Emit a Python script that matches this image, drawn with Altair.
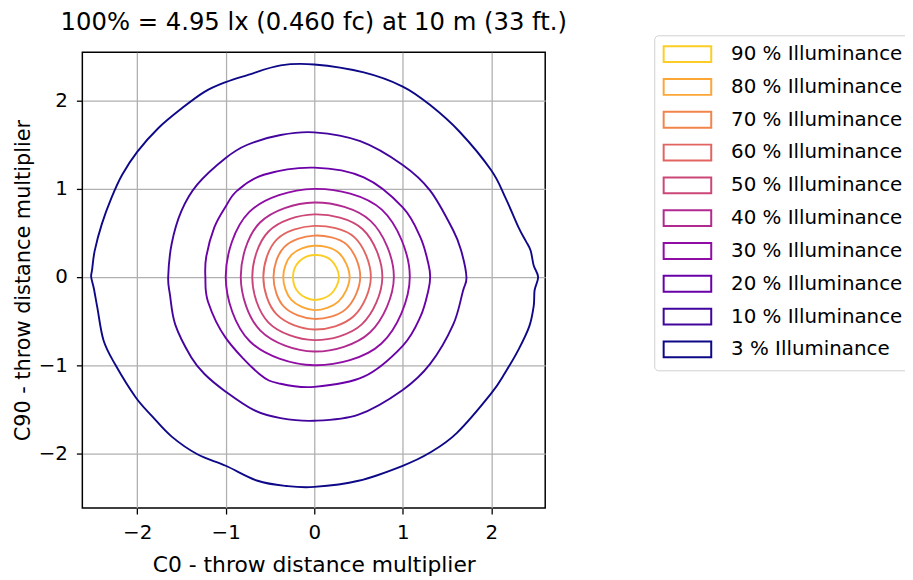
import math
import altair as alt
import pandas as pd

# ---- data ----
pct_levels = [90, 80, 70, 60, 50, 40, 30, 20, 10, 3]
level_colors = ["#fcce25", "#fca636", "#f2844b", "#e16462", "#cc4778",
                "#b12a90", "#8f0da4", "#6a00a8", "#41049d", "#0d0887"]

# outer contours: explicit (x, y) points, counter-clockwise from the right
c3_x = [2.53, 2.48, 2.445, 2.39, 2.31, 2.16, 2.00, 1.64, 1.31, 1.00, 0.56, 0.00, -0.38, -0.755,
        -1.00, -1.24, -1.50, -1.76, -2.00, -2.17, -2.29, -2.40, -2.48, -2.51, -2.52, -2.49,
        -2.45, -2.38, -2.25, -2.02, -1.83, -1.61, -1.32, -1.00, -0.64, -0.31, 0.00, 0.50, 1.00,
        1.31, 1.61, 2.00, 2.16, 2.31, 2.43, 2.48, 2.49]
c3_y = [0.00, 0.13, 0.30, 0.41, 0.56, 0.90, 1.21, 1.65, 1.95, 2.16, 2.32, 2.41, 2.40, 2.29,
        2.21, 2.10, 1.91, 1.69, 1.42, 1.16, 0.90, 0.60, 0.30, 0.08, 0.00, -0.13,
        -0.35, -0.72, -0.99, -1.36, -1.58, -1.81, -2.01, -2.14, -2.31, -2.37, -2.38, -2.31, -2.14,
        -1.99, -1.77, -1.32, -1.08, -0.82, -0.56, -0.33, -0.15]

c10_x = [1.72, 1.66, 1.57, 1.31, 1.00, 0.52, 0.00, -0.38, -0.755, -1.00, -1.32, -1.50, -1.61,
         -1.65, -1.63, -1.57, -1.39, -1.24, -1.00, -0.68, -0.38, 0.00, 0.50, 1.00, 1.31, 1.57, 1.68]
c10_y = [0.00, 0.30, 0.53, 0.98, 1.27, 1.54, 1.64, 1.61, 1.50, 1.35, 1.05, 0.75, 0.38,
         0.00, -0.20, -0.54, -0.91, -1.10, -1.30, -1.51, -1.60, -1.63, -1.56, -1.28, -0.985, -0.54, -0.16]

c20_x = [1.31, 1.29, 1.20, 1.00, 0.56, 0.00, -0.57, -0.87, -1.00, -1.13, -1.22, -1.23, -1.20,
         -1.00, -0.62, -0.38, 0.00, 0.56, 1.00, 1.20, 1.29]
c20_y = [0.00, 0.15, 0.45, 0.79, 1.13, 1.24, 1.16, 0.98, 0.80, 0.56, 0.23, 0.00, -0.28,
         -0.69, -1.10, -1.21, -1.245, -1.13, -0.78, -0.45, -0.15]

# inner contours: radius at 0, 45, 90, ... 315 degrees
inner_angles = [0, 45, 90, 135, 180, 225, 270, 315]
r30 = [1.08, 1.08, 1.00, 1.04, 1.00, 1.03, 1.00, 1.07]
r40 = [0.90, 0.90, 0.845, 0.87, 0.83, 0.86, 0.845, 0.89]
r50 = [0.77, 0.77, 0.71, 0.73, 0.70, 0.73, 0.715, 0.76]
r60 = [0.64, 0.64, 0.58, 0.60, 0.575, 0.60, 0.595, 0.63]
r70 = [0.52, 0.52, 0.47, 0.48, 0.46, 0.48, 0.475, 0.51]
r80 = [0.40, 0.39, 0.355, 0.36, 0.35, 0.365, 0.375, 0.39]
r90 = [0.28, 0.27, 0.25, 0.245, 0.24, 0.25, 0.26, 0.27]

labels = [f"{p} % Illuminance" for p in pct_levels]

rows = []


def add(pct, xs, ys):
    lab = f"{pct} % Illuminance"
    for i, (x, y) in enumerate(zip(xs, ys)):
        rows.append({"level": lab, "i": i, "x": x, "y": y})


def add_polar(pct, radii):
    xs = [r * math.cos(math.radians(a)) for r, a in zip(radii, inner_angles)]
    ys = [r * math.sin(math.radians(a)) for r, a in zip(radii, inner_angles)]
    add(pct, xs, ys)


add(3, c3_x, c3_y)
add(10, c10_x, c10_y)
add(20, c20_x, c20_y)
add_polar(30, r30)
add_polar(40, r40)
add_polar(50, r50)
add_polar(60, r60)
add_polar(70, r70)
add_polar(80, r80)
add_polar(90, r90)

df = pd.DataFrame(rows)

FONT = "DejaVu Sans"
ticks = [-2, -1, 0, 1, 2]

chart = alt.Chart(df).mark_line(
    interpolate="cardinal-closed", strokeWidth=1.9
).encode(
    x=alt.X("x:Q",
            scale=alt.Scale(domain=[-2.62, 2.61], nice=False, zero=False),
            axis=alt.Axis(values=ticks, title="C0 - throw distance multiplier", format="d",
                          titlePadding=12)),
    y=alt.Y("y:Q",
            scale=alt.Scale(domain=[-2.62, 2.55], nice=False, zero=False),
            axis=alt.Axis(values=ticks, title="C90 - throw distance multiplier", format="d",
                          titlePadding=5, titleFontSize=21)),
    color=alt.Color("level:N",
                    scale=alt.Scale(domain=labels, range=level_colors),
                    legend=alt.Legend(
                        title=None, orient="none", legendX=577, legendY=-17,
                        symbolType="M-3,-1H3V1H-3Z", symbolSize=256,
                        symbolStrokeWidth=2, symbolFillColor="transparent",
                        symbolOffset=14.5, labelOffset=34, rowPadding=9.1,
                        padding=9, strokeColor="#d0d0d0", cornerRadius=4,
                        fillColor="white", labelFont=FONT, labelFontSize=20,
                        labelColor="black", labelLimit=400)),
    detail="level:N",
    order=alt.Order("i:Q"),
).properties(
    width=467,
    height=460,
    title=alt.Title("100% = 4.95 lx (0.460 fc) at 10 m (33 ft.)", font=FONT, fontSize=24.5,
                    fontWeight="normal", color="black", anchor="middle", frame="group",
                    offset=-1),
    autosize=alt.AutoSizeParams(type="none"),
    padding={"left": 75, "top": 42, "right": 363, "bottom": 68},
).configure_view(
    stroke="black", strokeWidth=1.5
).configure_axis(
    domain=False, grid=True, gridColor="#b0b0b0", gridWidth=1.3,
    tickColor="black", tickSize=6, tickWidth=1.3,
    labelFont=FONT, labelFontSize=20, labelColor="black", labelPadding=9,
    titleFont=FONT, titleFontSize=22, titleFontWeight="normal", titleColor="black",
)

chart.save("out.html", embed_options={"renderer": "svg", "actions": False})
